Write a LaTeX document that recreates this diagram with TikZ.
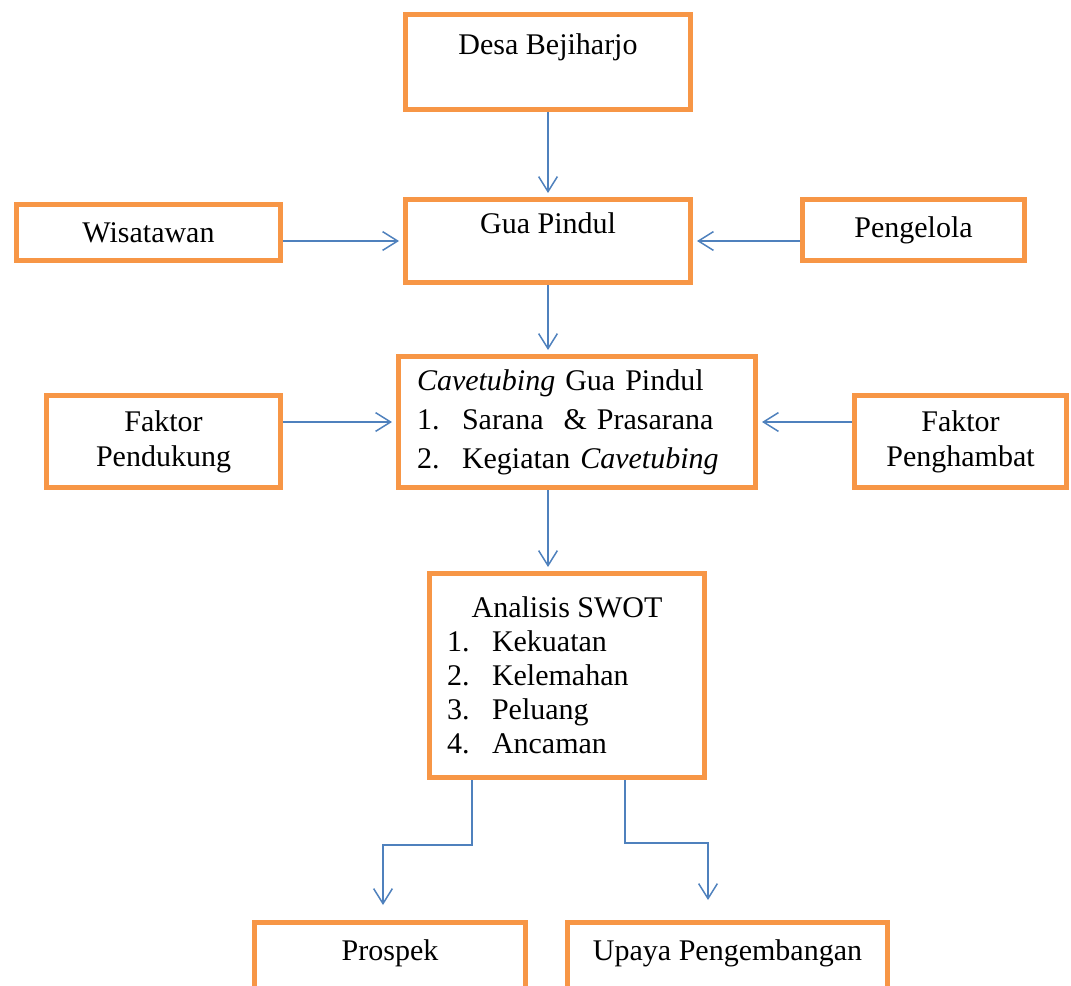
\documentclass[tikz,border=0pt]{standalone}
\usepackage{fontspec}
\setmainfont{Liberation Serif}
\usepackage{xcolor}
\usetikzlibrary{positioning,arrows.meta}
\definecolor{gpOrange}{HTML}{F79646}
\definecolor{gpBlue}{HTML}{4F81BD}
\newcommand{\nomor}[1]{\makebox[18pt][l]{#1}}

\begin{document}
\begin{tikzpicture}[x=0.4pt,y=-0.4pt,
    kotak/.style={draw=gpOrange,line width=2pt,align=center,
      font=\fontsize{12}{14}\selectfont},
    panah/.style={draw=gpBlue,line width=0.6pt,
      -{Straight Barb[length=6pt,width=7.5pt]},shorten >=1.6pt}]
        \useasboundingbox (0,0) rectangle (1071,985);
        \clip (0,0) rectangle (1071,985);
        \node[kotak,minimum width=114pt,minimum height=38pt] (desa) at (548,62)
          {Desa Bejiharjo\\ \mbox{}};
        \node[kotak,minimum width=114pt,minimum height=33.2pt] (gua) at (548,241)
          {Gua Pindul\\ \mbox{}};
        \node[kotak,minimum width=105.6pt,minimum height=22.4pt] (wisatawan) at (148.5,232.5)
          {Wisatawan};
        \node[kotak,minimum width=88.8pt,minimum height=24.4pt] (pengelola) at (913.5,230)
          {Pengelola};
        \node[kotak,align=left,text width=128pt,inner xsep=7.4pt,inner ysep=2pt,
          minimum height=52.4pt,font=\fontsize{12}{15.6}\selectfont] (cave) at (577,422)
          {\textit{Cavetubing} Gua Pindul\\
           \nomor{1.}Sarana \ \& Prasarana\\
           \nomor{2.}Kegiatan \textit{Cavetubing}};
        \node[kotak,minimum width=93.6pt,minimum height=36.8pt] (pendukung) at (163.5,441.5)
          {Faktor\\Pendukung};
        \node[kotak,minimum width=84.8pt,minimum height=36.8pt] (penghambat) at (960.5,441.5)
          {Faktor\\Penghambat};
        \node[kotak,minimum width=110pt,minimum height=81.6pt,
          font=\fontsize{12}{13.6}\selectfont] (swot) at (567,675.5)
          {Analisis SWOT\\
           \makebox[96pt][l]{\nomor{1.}Kekuatan}\\
           \makebox[96pt][l]{\nomor{2.}Kelemahan}\\
           \makebox[96pt][l]{\nomor{3.}Peluang}\\
           \makebox[96pt][l]{\nomor{4.}Ancaman}};
        \node[kotak,minimum width=108.2pt,minimum height=36pt] (prospek) at (390,967.5)
          {Prospek\\ \mbox{}};
        \node[kotak,minimum width=128pt,minimum height=36pt] (upaya) at (727.5,967.5)
          {Upaya Pengembangan\\ \mbox{}};
        \coordinate (belokKiri) at (472,845);
        \coordinate (belokKanan) at (625,843);
        \draw[panah] (desa.south) -- (gua.north);
        \draw[panah] (wisatawan.east |- gua.west) -- (gua.west);
        \draw[panah] (pengelola.west |- gua.east) -- (gua.east);
        \draw[panah] (gua.south) -- (gua.south |- cave.north);
        \draw[panah] (pendukung.east |- cave.west) -- (cave.west);
        \draw[panah] (penghambat.west |- cave.east) -- (cave.east);
        \draw[panah] (cave.south -| gua.south) -- (swot.north -| gua.south);
        \draw[panah,shorten >=6pt] (swot.south -| belokKiri) -- (belokKiri)
          -| ([xshift=-2.8pt]prospek.north);
        \draw[panah,shorten >=8pt] (swot.south -| belokKanan) -- (belokKanan)
          -| ([xshift=-7.8pt]upaya.north);
      \end{tikzpicture}
\end{document}
